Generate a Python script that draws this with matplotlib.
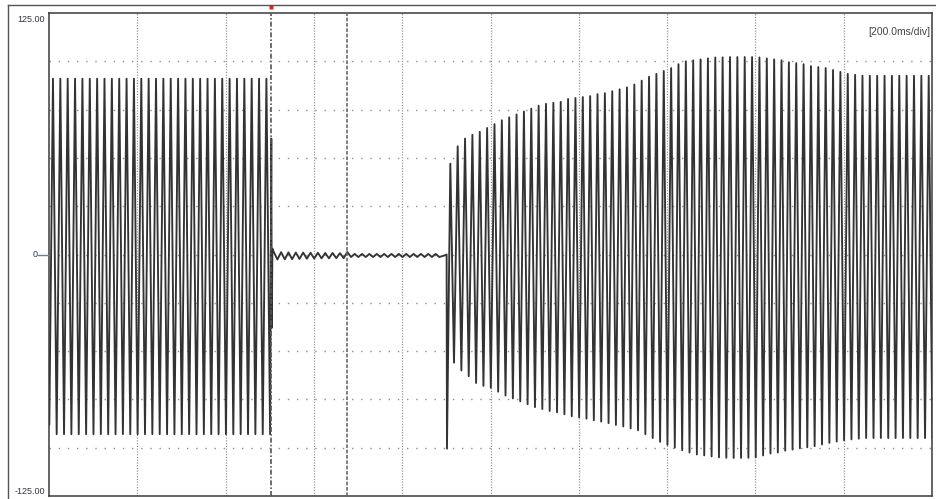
import numpy as np
import matplotlib
matplotlib.use("Agg")
import matplotlib.pyplot as plt
from matplotlib.lines import Line2D

# ---------------- data ----------------
period_ms = 16.67            # 60 Hz carrier, one peak + one trough per cycle
time_span_ms = 2000.0        # 10 div x 200 ms/div
y_limit = 125.0

# pre-fault section: troughs start at 0.7 ms, peaks at 9 ms
pre_trough_start_ms = 0.7
pre_peak_start_ms = 9.0
pre_peaks = [91, 91, 91, 91, 91, 91, 91, 91, 91, 91,
             91, 91, 91, 91, 91, 91, 91, 91, 91, 91,
             91, 91, 91, 91, 91, 91, 91, 91, 91, 91]
pre_troughs = [-88, -93, -93, -93, -93, -93, -93, -93, -93, -93,
               -93, -93, -93, -93, -93, -93, -93, -93, -93, -93,
               -93, -93, -93, -93, -93, -93, -93, -93, -93, -93, -93]

# breaker opening transient at the first cursor
cursor1_ms = 503.0
cursor2_ms = 675.0
transient_t = [503.5, 504.6, 506.0]
transient_v = [60.0, -38.0, 3.0]

# residual ripple while open
ripple_start_ms = 509.0
ripple_peaks = [1.4, 1.2, 1.1, 1.0, 1.0, 0.9, 0.9, 0.8, 0.8, 0.7,
                1.3, 0.3, 0.3, 0.3, 0.3, 0.3, 0.3, 0.3, 0.3, 0.3,
                0.3, 0.3, 0.3]
ripple_troughs = [-2.6, -2.5, -2.4, -2.3, -2.2, -2.1, -2.0, -2.0, -1.9, -1.9,
                  -1.3, -1.3, -1.3, -1.3, -1.3, -1.3, -1.3, -1.3, -1.3, -1.3,
                  -1.3, -1.3, -1.3]
ripple_end_t = 897.0
ripple_end_v = -0.4

# re-closing
reclose_t = [900.6, 901.4]
reclose_v = [0.0, -100.5]
post_peak_start_ms = 909.0
post_peaks = [47, 56, 60, 62, 63.5, 65.5, 67.5, 69.5, 71, 72.5,
              74, 75.5, 77, 78, 78.5, 79, 80.5, 81, 81.5, 82,
              83, 83.5, 84.5, 85.5, 86.5, 88, 90, 92, 93.5, 95,
              96.5, 98.5, 100, 100.5, 101, 101.5, 102, 102, 102.2, 102.2,
              102.2, 102.2, 102, 101.5, 101, 100.5, 99.5, 99, 98.5, 97.5,
              97, 96.5, 95.5, 94.5, 93.5, 93, 92.5, 92.5, 92.5, 92.5,
              92.5, 92.5, 92.5, 92.5, 92.5, 92.5]
post_troughs = [-56, -60, -63, -66.5, -68, -69, -71, -73, -74.5, -76,
                -77.5, -79, -80, -81, -81.7, -82.7, -83.7, -84.3, -85, -85.8,
                -86.5, -87.3, -88.2, -89, -90, -91, -93, -95, -97, -98.5,
                -100, -101.3, -102.5, -103.5, -104, -104.5, -105, -105.2, -105.3, -105.3,
                -105.2, -105, -104, -103, -102.5, -101.5, -101, -100.3, -99.8, -99.2,
                -98.3, -97.5, -96.8, -96.2, -95.7, -95.3, -95, -95, -95, -95,
                -95, -95, -95, -95, -95, -95]

y_tick_labels = ["125.00", "0", "-125.00"]
scale_label = "[200.0ms/div]"

# ---------------- assemble the trace ----------------
pts = []
for k, v in enumerate(pre_peaks):
    pts.append((pre_peak_start_ms + k * period_ms, v))
for k, v in enumerate(pre_troughs):
    pts.append((pre_trough_start_ms + k * period_ms, v))
pts += list(zip(transient_t, transient_v))
for k, v in enumerate(ripple_peaks):
    pts.append((ripple_start_ms + k * period_ms, v))
for k, v in enumerate(ripple_troughs):
    pts.append((ripple_start_ms + (k + 0.5) * period_ms, v))
pts.append((ripple_end_t, ripple_end_v))
pts += list(zip(reclose_t, reclose_v))
for k, v in enumerate(post_peaks):
    pts.append((post_peak_start_ms + k * period_ms, v))
for k, v in enumerate(post_troughs):
    pts.append((post_peak_start_ms + (k + 0.5) * period_ms, v))
pts.sort(key=lambda p: p[0])
t = np.array([p[0] for p in pts])
y = np.array([p[1] for p in pts])

# ---------------- figure ----------------
W, H = 936, 499
fig = plt.figure(figsize=(W / 100, H / 100), dpi=100)
fig.patch.set_facecolor("white")
L, R, T, B = 49, 932, 13, 496
ax = fig.add_axes([L / W, 1 - B / H, (R - L) / W, (B - T) / H])
ax.set_xlim(0, time_span_ms)
ax.set_ylim(-y_limit, y_limit)
ax.set_xticks([])
ax.set_yticks([])
for s in ax.spines.values():
    s.set_color("#3a3a3a")
    s.set_linewidth(1.1)

# grid
div_x = time_span_ms / 10
div_y = 2 * y_limit / 10
for k in range(1, 10):
    ax.axvline(k * div_x, color="#8f8f8f", lw=0.9, dashes=(0.9, 1.3), zorder=1)
for k in range(1, 10):
    ax.axhline(-y_limit + k * div_y, color="#8f8f8f", lw=1.0,
               dashes=(1.0, 5.6), zorder=1)

# cursors
ax.axvline(cursor1_ms, color="#555555", lw=1.2, dashes=(3, 1.2, 1, 1.2), zorder=3)
ax.axvline(cursor2_ms, color="#6a6a6a", lw=1.2, dashes=(2.2, 1.0), zorder=3)
ax.plot([cursor1_ms], [y_limit + (T - 7) * 2 * y_limit / (B - T)], marker="s",
        ms=2.2, color="#e02020", mec="none", clip_on=False, zorder=5)

# trace
ax.plot(t, y, color="#333333", lw=1.35, zorder=2)

# labels
fnt = dict(family=["Liberation Sans", "DejaVu Sans"], color="#333344")
fig.text(45 / W, 1 - 19 / H, y_tick_labels[0], ha="right", va="center", fontsize=6.5, **fnt)
fig.text(38 / W, 1 - 254.5 / H, y_tick_labels[1], ha="right", va="center", fontsize=6.5, **fnt)
fig.text(45 / W, 1 - 492 / H, y_tick_labels[2], ha="right", va="center", fontsize=6.5, **fnt)
fig.add_artist(Line2D([38 / W, L / W], [1 - 254.5 / H, 1 - 254.5 / H],
                      color="#6d7f9c", lw=1.0))
ax.text(0.9985, 0.972, scale_label, transform=ax.transAxes, ha="right", va="top",
        fontsize=7.5, family=["Liberation Sans", "DejaVu Sans"], color="#444444")

# outer frame (top and left)
fig.add_artist(Line2D([8 / W, 1.0], [1 - 5 / H, 1 - 5 / H], color="#555555", lw=1.0))
fig.add_artist(Line2D([8 / W, 8 / W], [0.0, 1 - 5 / H], color="#555555", lw=1.0))

fig.savefig("out.png", dpi=100)
